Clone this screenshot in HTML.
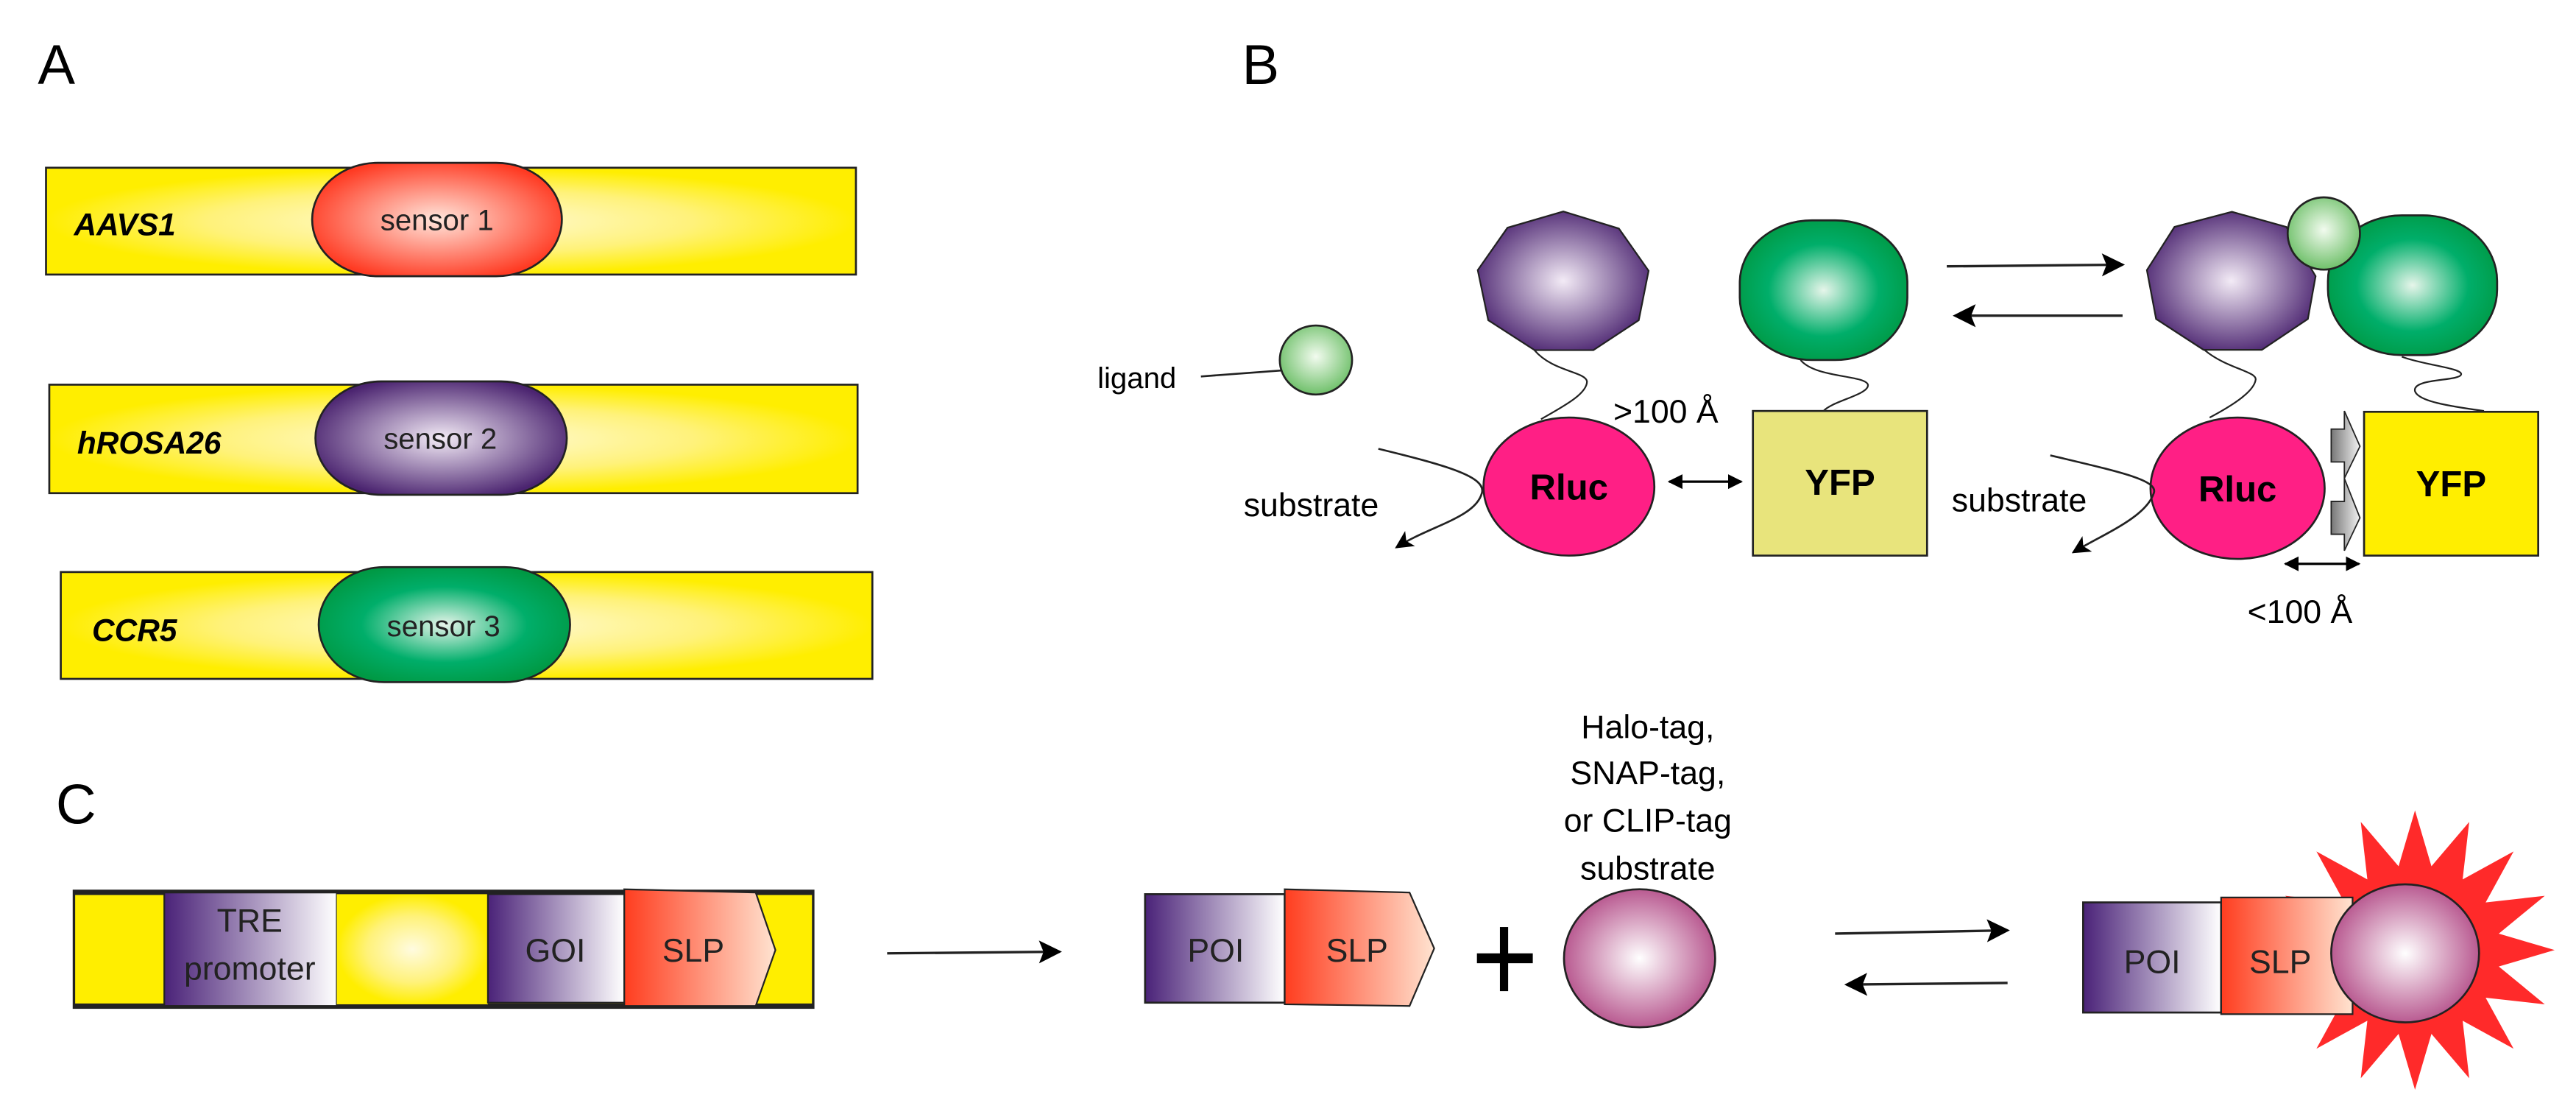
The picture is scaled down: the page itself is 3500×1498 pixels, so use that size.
<!DOCTYPE html>
<html><head><meta charset="utf-8"><style>
html,body{margin:0;padding:0;background:#fff}
svg{display:block}
text{font-family:"Liberation Sans",sans-serif}
</style></head><body>
<svg width="3500" height="1498" viewBox="0 0 1568 671" xmlns="http://www.w3.org/2000/svg">
<defs>
<radialGradient id="yel" cx="0.5" cy="0.5" r="0.5"><stop offset="0" stop-color="#fffbe0"/><stop offset="0.6" stop-color="#fff27a"/><stop offset="1" stop-color="#ffee00"/></radialGradient>
<radialGradient id="red" cx="0.5" cy="0.5" r="0.55"><stop offset="0" stop-color="#ffe6dc"/><stop offset="1" stop-color="#ff3a22"/></radialGradient>
<radialGradient id="pur" cx="0.5" cy="0.5" r="0.55"><stop offset="0" stop-color="#f3ebf6"/><stop offset="1" stop-color="#4b2470"/></radialGradient>
<radialGradient id="grn" cx="0.5" cy="0.5" r="0.55"><stop offset="0" stop-color="#e6f5ea"/><stop offset="0.6" stop-color="#00ae6a"/><stop offset="1" stop-color="#009944"/></radialGradient>
<radialGradient id="lig" cx="0.5" cy="0.45" r="0.55"><stop offset="0" stop-color="#f2fbef"/><stop offset="1" stop-color="#6fc06a"/></radialGradient>
<radialGradient id="mag" cx="0.5" cy="0.5" r="0.55"><stop offset="0" stop-color="#ffffff"/><stop offset="1" stop-color="#b24a86"/></radialGradient>
<linearGradient id="purL" x1="0" x2="1"><stop offset="0" stop-color="#4a2278"/><stop offset="1" stop-color="#ffffff"/></linearGradient>
<linearGradient id="orL" x1="0" x2="1"><stop offset="0" stop-color="#ff3d1f"/><stop offset="1" stop-color="#ffe3d0"/></linearGradient>
<linearGradient id="grayL" x1="0" x2="1"><stop offset="0" stop-color="#777"/><stop offset="1" stop-color="#f2f2f2"/></linearGradient>
<marker id="ah" viewBox="0 0 10 10" refX="9" refY="5" markerUnits="userSpaceOnUse" markerWidth="11" markerHeight="11" orient="auto-start-reverse"><path d="M0,0 L10,5 L0,10 L2.5,5z" fill="#000"/></marker>
<marker id="ah2" viewBox="0 0 10 10" refX="9" refY="5" markerUnits="userSpaceOnUse" markerWidth="9" markerHeight="10" orient="auto-start-reverse"><path d="M0,0 L10,5 L0,10z" fill="#000"/></marker>
<marker id="ahb" viewBox="0 0 10 10" refX="9" refY="5" markerUnits="userSpaceOnUse" markerWidth="14" markerHeight="16" orient="auto-start-reverse"><path d="M0,0 L10,5 L0,10 L2,5z" fill="#000"/></marker>
</defs>

<!-- Panel labels -->
<text x="23" y="51" font-size="34">A</text>
<text x="756" y="51" font-size="34">B</text>
<text x="34" y="501" font-size="34">C</text>

<!-- Panel A -->
<rect x="28" y="102" width="493" height="65" fill="url(#yel)" stroke="#222" stroke-width="1.2"/>
<rect x="190" y="99" width="152" height="69" rx="40" ry="34.5" fill="url(#red)" stroke="#222" stroke-width="1.2"/>
<text x="45" y="143" font-size="19" font-weight="bold" font-style="italic">AAVS1</text>
<text x="266" y="140" font-size="18" text-anchor="middle" fill="#222">sensor 1</text>

<rect x="30" y="234" width="492" height="66" fill="url(#yel)" stroke="#222" stroke-width="1.2"/>
<rect x="192" y="232" width="153" height="69" rx="40" ry="34.5" fill="url(#pur)" stroke="#222" stroke-width="1.2"/>
<text x="47" y="276" font-size="19" font-weight="bold" font-style="italic">hROSA26</text>
<text x="268" y="273" font-size="18" text-anchor="middle" fill="#222">sensor 2</text>

<rect x="37" y="348" width="494" height="65" fill="url(#yel)" stroke="#222" stroke-width="1.2"/>
<rect x="194" y="345" width="153" height="70" rx="40" ry="35" fill="url(#grn)" stroke="#222" stroke-width="1.2"/>
<text x="56" y="390" font-size="19" font-weight="bold" font-style="italic">CCR5</text>
<text x="270" y="387" font-size="18" text-anchor="middle" fill="#222">sensor 3</text>

<!-- Panel B left -->
<text x="668" y="236" font-size="18">ligand</text>
<line x1="731" y1="229" x2="798" y2="224" stroke="#222" stroke-width="1.2"/>
<ellipse cx="801" cy="219" rx="22" ry="21" fill="url(#lig)" stroke="#222" stroke-width="1.2"/>

<polygon points="951.6,128.6 985.4,139 1003.5,164.7 997.5,194.8 969.9,213 934.1,213 905.9,194.8 899.5,164.3 917.6,138.5" fill="url(#pur)" stroke="#222" stroke-width="1"/>
<rect x="1059" y="134" width="102" height="85" rx="44" ry="38" fill="url(#grn)" stroke="#222" stroke-width="1.2"/>
<path d="M934,213 C945,226 965,226 966,232 C966,240 950,248 938,255" fill="none" stroke="#222" stroke-width="1"/>
<path d="M1096,219 C1105,230 1135,228 1137,234 C1138,240 1115,244 1110,250" fill="none" stroke="#222" stroke-width="1"/>
<rect x="1067" y="250" width="106" height="88" fill="#e8e47c" stroke="#222" stroke-width="1.2"/>
<ellipse cx="955" cy="296" rx="52" ry="42" fill="#ff1f85" stroke="#222" stroke-width="1.2"/>
<text x="955" y="304" font-size="22" font-weight="bold" text-anchor="middle">Rluc</text>
<text x="1120" y="301" font-size="22" font-weight="bold" text-anchor="middle">YFP</text>
<text x="982" y="257" font-size="20">&gt;100 Å</text>
<line x1="1016" y1="293" x2="1060" y2="293" stroke="#000" stroke-width="1.5" marker-start="url(#ah2)" marker-end="url(#ah2)"/>
<path d="M839,273 C880,283 905,290 902,300 C898,315 870,320 850,333" fill="none" stroke="#222" stroke-width="1.2" marker-end="url(#ah)"/>
<text x="757" y="314" font-size="20">substrate</text>

<!-- equilibrium arrows B -->
<line x1="1185" y1="162" x2="1292" y2="161" stroke="#222" stroke-width="1.5" marker-end="url(#ahb)"/>
<line x1="1292" y1="192" x2="1190" y2="192" stroke="#222" stroke-width="1.5" marker-end="url(#ahb)"/>

<!-- Panel B right -->
<polygon points="1358.5,128.8 1391.7,138 1409.5,168 1404.8,194 1376.8,212.8 1341.3,212.8 1312.4,194 1306.8,164.3 1323.6,138" fill="url(#pur)" stroke="#222" stroke-width="1"/>
<rect x="1417" y="131" width="103" height="85" rx="45" ry="40" fill="url(#grn)" stroke="#222" stroke-width="1.2"/>
<circle cx="1414.5" cy="142" r="22" fill="url(#lig)" stroke="#222" stroke-width="1.2"/>
<path d="M1342,213 C1355,224 1374,226 1373,231 C1372,238 1360,246 1345,254" fill="none" stroke="#222" stroke-width="1"/>
<path d="M1462,217 C1475,222 1500,224 1498,228 C1496,232 1468,230 1470,238 C1472,244 1490,247 1512,250" fill="none" stroke="#222" stroke-width="1"/>
<rect x="1439" y="250.5" width="106" height="87.5" fill="#ffee00" stroke="#222" stroke-width="1.2"/>
<ellipse cx="1362" cy="297" rx="53" ry="43" fill="#ff1f85" stroke="#222" stroke-width="1.2"/>
<text x="1362" y="305" font-size="22" font-weight="bold" text-anchor="middle">Rluc</text>
<text x="1492" y="302" font-size="22" font-weight="bold" text-anchor="middle">YFP</text>
<polygon points="1419,261 1427,261 1427,250 1436.5,271.5 1427,291 1427,281 1419,281" fill="url(#grayL)" stroke="#222" stroke-width="0.8"/>
<polygon points="1419,305 1427,305 1427,291 1436.5,315 1427,335 1427,325 1419,325" fill="url(#grayL)" stroke="#222" stroke-width="0.8"/>
<line x1="1391" y1="343" x2="1436" y2="343" stroke="#000" stroke-width="1.5" marker-start="url(#ah2)" marker-end="url(#ah2)"/>
<text x="1368" y="379" font-size="20">&lt;100 Å</text>
<path d="M1248,277 C1290,287 1314,292 1311,300 C1306,315 1280,325 1262,336" fill="none" stroke="#222" stroke-width="1.2" marker-end="url(#ah)"/>
<text x="1188" y="311" font-size="20">substrate</text>

<!-- Panel C -->
<g font-size="20" text-anchor="middle">
<text x="1003" y="449">Halo-tag,</text>
<text x="1003" y="477">SNAP-tag,</text>
<text x="1003" y="506">or CLIP-tag</text>
<text x="1003" y="535">substrate</text>
</g>

<rect x="45" y="542" width="450" height="71" fill="#ffee00" stroke="#222" stroke-width="1.5"/>
<rect x="45" y="542" width="450" height="2.5" fill="#222"/>
<rect x="45" y="610.5" width="450" height="2.5" fill="#222"/>
<rect x="100" y="543" width="105" height="69" fill="url(#purL)" stroke="#222" stroke-width="1"/>
<rect x="205" y="544" width="92" height="67" fill="url(#yel)"/>
<rect x="297" y="544" width="83" height="66" fill="url(#purL)" stroke="#222" stroke-width="1"/>
<polygon points="380,541 460,543 472,578 460,612 380,612" fill="url(#orL)" stroke="#222" stroke-width="1"/>
<text x="152" y="567" font-size="20" text-anchor="middle" fill="#222">TRE</text>
<text x="152" y="596" font-size="20" text-anchor="middle" fill="#222">promoter</text>
<text x="338" y="585" font-size="20" text-anchor="middle" fill="#222">GOI</text>
<text x="422" y="585" font-size="20" text-anchor="middle" fill="#222">SLP</text>

<line x1="540" y1="580" x2="645" y2="579" stroke="#222" stroke-width="1.5" marker-end="url(#ahb)"/>

<rect x="697" y="544" width="85" height="66" fill="url(#purL)" stroke="#222" stroke-width="1.2"/>
<polygon points="782,541 858,543 873,577 858,612 782,611" fill="url(#orL)" stroke="#222" stroke-width="1"/>
<text x="740" y="585" font-size="20" text-anchor="middle" fill="#222">POI</text>
<text x="826" y="585" font-size="20" text-anchor="middle" fill="#222">SLP</text>

<rect x="913" y="564" width="5" height="39" fill="#000"/>
<rect x="899" y="580" width="34" height="6" fill="#000"/>

<ellipse cx="998" cy="583" rx="46" ry="42" fill="url(#mag)" stroke="#222" stroke-width="1.2"/>

<line x1="1117" y1="568" x2="1222" y2="566" stroke="#222" stroke-width="1.5" marker-end="url(#ahb)"/>
<line x1="1222" y1="598" x2="1124" y2="599" stroke="#222" stroke-width="1.5" marker-end="url(#ahb)"/>

<polygon points="1555,578 1521,588 1549,611 1513,607 1530,638 1499,621 1503,656 1480,629 1470,663 1460,629 1437,656 1441,621 1410,638 1427,607 1391,611 1419,588 1385,578 1419,568 1391,545 1427,549 1410,518 1441,535 1437,500 1460,527 1470,493 1480,527 1503,500 1499,535 1530,518 1513,549 1549,545 1521,568" fill="#ff2a2a"/>
<rect x="1268" y="549" width="84" height="67" fill="url(#purL)" stroke="#222" stroke-width="1.2"/>
<rect x="1352" y="546" width="80" height="71" fill="url(#orL)" stroke="#222" stroke-width="1"/>
<text x="1310" y="592" font-size="20" text-anchor="middle" fill="#222">POI</text>
<text x="1388" y="592" font-size="20" text-anchor="middle" fill="#222">SLP</text>
<ellipse cx="1464" cy="580" rx="45" ry="42" fill="url(#mag)" stroke="#222" stroke-width="1.2"/>
</svg>
</body></html>
